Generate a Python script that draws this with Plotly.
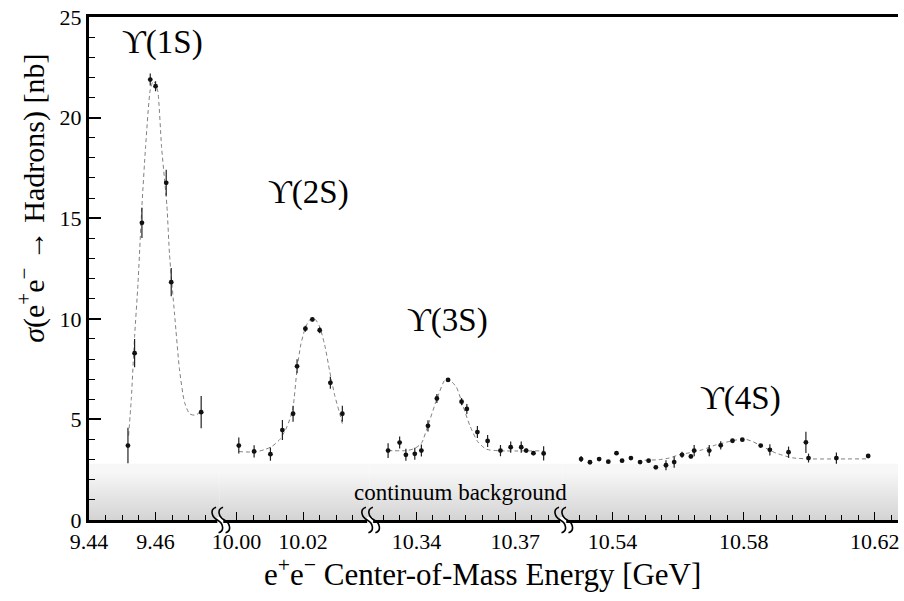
import plotly.graph_objects as go

# ---------------- data ----------------
# Upsilon(1S) scan
e_1s = [9.4517, 9.4537, 9.4559, 9.4584, 9.4600, 9.4632, 9.4647, 9.4737]
s_1s = [3.70, 8.29, 14.77, 21.89, 21.56, 16.76, 11.82, 5.36]
err_1s = [0.88, 0.70, 0.75, 0.30, 0.25, 0.65, 0.70, 0.80]
fit_e_1s = [9.4519, 9.4527, 9.4537, 9.4547, 9.4559, 9.4570, 9.4584, 9.4593, 9.4600,
            9.4607, 9.4618, 9.4634, 9.4642, 9.4657, 9.4672, 9.4687, 9.4702, 9.4717, 9.4737]
fit_s_1s = [4.20, 5.99, 9.12, 11.71, 15.62, 18.55, 21.38, 21.82, 21.67,
            21.28, 18.55, 15.62, 13.17, 10.24, 7.46, 5.85, 5.28, 5.21, 5.36]

# Upsilon(2S) scan
e_2s = [10.0007, 10.0053, 10.0102, 10.0138, 10.0170, 10.0182, 10.0207, 10.0228,
        10.0250, 10.0282, 10.0318]
s_2s = [3.70, 3.41, 3.27, 4.47, 5.28, 7.64, 9.51, 9.97, 9.43, 6.82, 5.28]
err_2s = [0.40, 0.30, 0.33, 0.50, 0.40, 0.35, 0.15, 0.10, 0.15, 0.30, 0.40]
fit_e_2s = [10.0007, 10.0055, 10.0085, 10.0106, 10.0130, 10.0148, 10.0160, 10.0170,
            10.0182, 10.0193, 10.0205, 10.0217, 10.0228, 10.0238, 10.0250, 10.0265,
            10.0280, 10.0295, 10.0310, 10.0320]
fit_s_2s = [3.40, 3.38, 3.50, 3.65, 4.00, 4.50, 5.00, 5.60, 7.50, 8.70, 9.45, 9.90,
            10.02, 9.95, 9.60, 8.70, 7.40, 6.20, 5.30, 4.65]

# Upsilon(3S) scan
e_3s = [10.3314, 10.3349, 10.3368, 10.3395, 10.3415, 10.3435, 10.3462, 10.3496,
        10.3537, 10.3553, 10.3585, 10.3616, 10.3655, 10.3686, 10.3718, 10.3733,
        10.3755, 10.3786]
s_3s = [3.45, 3.85, 3.24, 3.29, 3.45, 4.68, 6.04, 6.96, 5.88, 5.52, 4.37, 3.93,
        3.45, 3.62, 3.62, 3.45, 3.32, 3.31]
err_3s = [0.37, 0.30, 0.30, 0.30, 0.30, 0.28, 0.22, 0.10, 0.18, 0.25, 0.30, 0.30,
          0.28, 0.28, 0.28, 0.10, 0.10, 0.35]
fit_e_3s = [10.3314, 10.3370, 10.3395, 10.3415, 10.3435, 10.3462, 10.3486, 10.3496,
            10.3521, 10.3541, 10.3562, 10.3586, 10.3612, 10.3652, 10.3786]
fit_s_3s = [3.45, 3.45, 3.56, 3.81, 4.70, 6.01, 6.96, 7.02, 6.61, 5.68, 4.70, 3.89,
            3.52, 3.44, 3.44]

# Upsilon(4S) scan
e_4s = [10.5304, 10.5331, 10.5359, 10.5387, 10.5412, 10.5429, 10.5456, 10.5484,
        10.5510, 10.5532, 10.5563, 10.5588, 10.5612, 10.5639, 10.5649, 10.5695,
        10.5730, 10.5766, 10.5796, 10.5852, 10.5880, 10.5937, 10.5990, 10.5998,
        10.6083, 10.6180]
s_4s = [3.03, 2.87, 3.03, 2.90, 3.32, 2.95, 3.08, 2.88, 2.95, 2.62, 2.72, 2.88,
        3.24, 3.16, 3.45, 3.45, 3.71, 3.94, 3.99, 3.70, 3.49, 3.37, 3.86, 3.08,
        3.08, 3.18]
err_4s = [0.15, 0.08, 0.08, 0.08, 0.08, 0.08, 0.08, 0.08, 0.08, 0.08, 0.25, 0.28,
          0.15, 0.10, 0.28, 0.28, 0.20, 0.08, 0.08, 0.08, 0.28, 0.28, 0.53, 0.22,
          0.28, 0.05]
fit_e_4s = [10.5498, 10.5542, 10.5573, 10.5603, 10.5644, 10.5674, 10.5715, 10.5766,
            10.5802, 10.5827, 10.5857, 10.5898, 10.5949, 10.5995, 10.6183]
fit_s_4s = [2.97, 3.00, 3.08, 3.24, 3.37, 3.49, 3.73, 3.94, 4.03, 3.90, 3.66, 3.33,
            3.09, 3.04, 3.04]

peak_labels = ["ϒ(1S)", "ϒ(2S)", "ϒ(3S)", "ϒ(4S)"]
label_e = [9.4620, 10.0217, 10.3494, 10.5789]
label_s = [23.75, 16.3, 9.9, 6.05]

continuum_level = 2.8
continuum_text = "continuum background"

# broken energy axis: four windows
seg_ranges = [[9.44, 9.4793], [9.995, 10.04], [10.3258, 10.3844], [10.5248, 10.6271]]
seg_domains = [[0.0, 0.1617], [0.1617, 0.3469], [0.3469, 0.5856], [0.5856, 1.0]]
seg_ticks = [[9.44, 9.46], [10.00, 10.02], [10.34, 10.37], [10.54, 10.58, 10.62]]

y_range = [0, 25]
y_ticks = [0, 5, 10, 15, 20, 25]

# ---------------- figure ----------------
FONT = "Liberation Serif"
W_FIG, H_FIG = 904, 601
ML, MR, MT, MB = 89, 5, 8, 81
PW, PH = W_FIG - ML - MR, H_FIG - MT - MB

data_sets = [
    (e_1s, s_1s, err_1s, fit_e_1s, fit_s_1s),
    (e_2s, s_2s, err_2s, fit_e_2s, fit_s_2s),
    (e_3s, s_3s, err_3s, fit_e_3s, fit_s_3s),
    (e_4s, s_4s, err_4s, fit_e_4s, fit_s_4s),
]

fig = go.Figure()
for i, (e, s, err, fe, fs) in enumerate(data_sets):
    xa = "x" if i == 0 else f"x{i+1}"
    lo, hi = seg_ranges[i]
    # continuum background band (gradient)
    fig.add_trace(go.Scatter(
        x=[lo - 0.01, hi + 0.01], y=[continuum_level, continuum_level],
        xaxis=xa, yaxis="y", mode="lines", line=dict(width=0),
        fill="tozeroy",
        fillgradient=dict(type="vertical",
                          colorscale=[[0, "#cdcdcd"], [1, "#f7f7f7"]],
                          start=0, stop=continuum_level),
        hoverinfo="skip", showlegend=False))
    # fit curve
    fig.add_trace(go.Scatter(
        x=fe, y=fs, xaxis=xa, yaxis="y", mode="lines",
        line=dict(color="#808080", width=1, dash="4px,3px", shape="spline", smoothing=0.6),
        hoverinfo="skip", showlegend=False))
    # measurements
    fig.add_trace(go.Scatter(
        x=e, y=s, xaxis=xa, yaxis="y", mode="markers",
        marker=dict(color="#111111", size=4.8, symbol="circle"),
        error_y=dict(type="data", array=err, visible=True, color="#222222",
                     thickness=1.2, width=0),
        showlegend=False))

layout = dict(
    width=W_FIG, height=H_FIG,
    margin=dict(l=ML, r=MR, t=MT, b=MB),
    paper_bgcolor="white", plot_bgcolor="white",
    font=dict(family=FONT, color="black", size=22),
    showlegend=False,
    yaxis=dict(range=y_range, tickvals=y_ticks, anchor="x",
               showgrid=False, zeroline=False, ticklabeloverflow="allow",
               showline=True, linecolor="black", linewidth=3,
               ticks="inside", ticklen=12, tickwidth=1.5, tickcolor="black",
               minor=dict(dtick=1, ticks="inside", ticklen=6, tickwidth=1.3,
                          tickcolor="black", showgrid=False),
               tickfont=dict(family=FONT, size=22)),
)
for i in range(4):
    key = "xaxis" if i == 0 else f"xaxis{i+1}"
    layout[key] = dict(
        domain=seg_domains[i], range=seg_ranges[i], anchor="y",
        tickvals=seg_ticks[i], ticktext=[f"{v:.2f}" for v in seg_ticks[i]],
        showgrid=False, zeroline=False, ticklabeloverflow="allow",
        showline=True, linecolor="black", linewidth=2.5, mirror=True,
        ticks="inside", ticklen=8, tickwidth=1.4, tickcolor="black",
        minor=dict(dtick=0.005, tick0=9.44, ticks="inside", ticklen=5,
                   tickwidth=1.2, tickcolor="black", showgrid=False),
        tickfont=dict(family=FONT, size=22))
fig.update_layout(**layout)

annotations = []
for i in range(4):
    xa = "x" if i == 0 else f"x{i+1}"
    annotations.append(dict(x=label_e[i], y=label_s[i], xref=xa, yref="y",
                            xanchor="center", yanchor="middle",
                            text=peak_labels[i], showarrow=False,
                            font=dict(family=FONT, size=33)))
annotations.append(dict(x=(461 - ML) / PW, y=1.35, xref="paper", yref="y",
                        xanchor="center", yanchor="middle",
                        text=continuum_text, showarrow=False,
                        font=dict(family=FONT, size=23)))
annotations.append(dict(x=(483 - ML) / PW, y=-(573 - (MT + PH)) / PH,
                        xref="paper", yref="paper", xanchor="center", yanchor="middle",
                        text="e<sup>+</sup>e<sup>−</sup> Center-of-Mass Energy [GeV]",
                        showarrow=False, font=dict(family=FONT, size=31)))
annotations.append(dict(x=-(ML - 32) / PW, y=(MT + PH - 193) / PH,
                        xref="paper", yref="paper", textangle=-90,
                        xanchor="center", yanchor="middle",
                        text="<i>σ</i>(e<sup>+</sup>e<sup>−</sup> → Hadrons) [nb]",
                        showarrow=False, font=dict(family=FONT, size=30)))
fig.update_layout(annotations=annotations)

# axis-break marks
def to_paper(px, py):
    return (px - ML) / PW, (MT + PH - py) / PH

def path_from(points):
    parts = []
    for k, (px, py) in enumerate(points):
        x, y = to_paper(px, py)
        cmd = "M" if k == 0 else ("C" if (k - 1) % 3 == 0 else "")
        parts.append(f"{cmd}{x:.5f},{y:.5f}")
    return " ".join(parts)

stroke = [(3, -13), (-4, -11), (-4, -3), (1, 0), (6, 3), (6, 11), (-1, 13)]
shapes = []
axis_y = MT + PH
for i in range(3):
    cx = ML + seg_domains[i][1] * PW
    gx0, gy0 = to_paper(cx - 2.5, axis_y - 3)
    gx1, gy1 = to_paper(cx + 3.5, axis_y + 3)
    shapes.append(dict(type="rect", xref="paper", yref="paper", x0=gx0, x1=gx1,
                       y0=gy1, y1=gy0, fillcolor="white", line=dict(width=0),
                       layer="above"))
    for ox in (-3.5, 3.5):
        pts = [(cx + ox + dx + 0.25 * dy, axis_y + dy) for dx, dy in stroke]
        shapes.append(dict(type="path", xref="paper", yref="paper",
                           path=path_from(pts), line=dict(color="black", width=1.6),
                           layer="above"))
fig.update_layout(shapes=shapes)

fig.write_html("out.html", config={"displayModeBar": False},
               post_script="document.body.style.margin = '0';")
